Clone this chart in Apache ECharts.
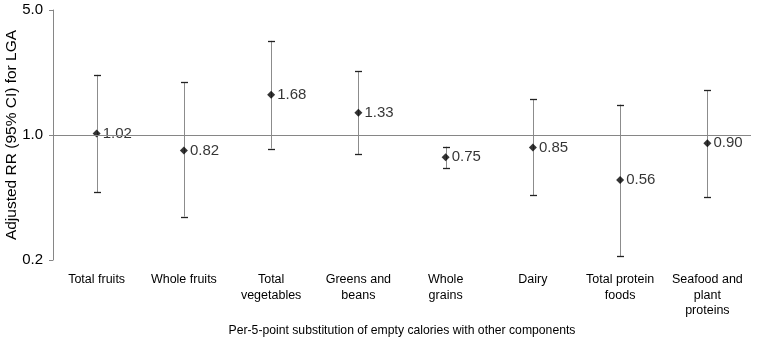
<!DOCTYPE html>
<html>
<head>
<meta charset="utf-8">
<script src="https://cdn.jsdelivr.net/npm/echarts@6/dist/echarts.min.js"></script>
<style>
  html, body { margin: 0; padding: 0; background: #fff; }
  #chart { width: 757px; height: 338px; }
</style>
</head>
<body>
<div id="chart"></div>
<script>
const categories = [
  "Total fruits", "Whole fruits", "Total\nvegetables", "Greens and\nbeans",
  "Whole\ngrains", "Dairy", "Total protein\nfoods", "Seafood and\nplant\nproteins"
];
const rr = [1.02, 0.82, 1.68, 1.33, 0.75, 0.85, 0.56, 0.90];
const ciLow = [0.48, 0.35, 0.84, 0.78, 0.65, 0.46, 0.21, 0.45];
const ciHigh = [2.17, 1.97, 3.36, 2.28, 0.86, 1.58, 1.48, 1.78];
const yTicks = [0.2, 1.0, 5.0];

const font = "'Liberation Sans', Arial, sans-serif";

const chart = echarts.init(document.getElementById("chart"));

chart.setOption({
  animation: false,
  grid: { left: 53, right: 6, top: 10, bottom: 78, outerBoundsMode: "none", containLabel: false },
  xAxis: {
    type: "category",
    data: categories,
    name: "Per-5-point substitution of empty calories with other components",
    nameLocation: "middle",
    nameGap: 65,
    nameMoveOverlap: false,
    nameTextStyle: { fontFamily: font, fontSize: 12.2, color: "#000" },
    axisLine: { show: false },
    axisTick: { show: false },
    axisLabel: {
      interval: 0,
      margin: 12,
      fontFamily: font,
      fontSize: 12.5,
      lineHeight: 15.5,
      color: "#000"
    }
  },
  yAxis: {
    type: "log",
    logBase: 5,
    min: yTicks[0],
    max: yTicks[yTicks.length - 1],
    name: "Adjusted RR (95% CI) for LGA",
    nameLocation: "middle",
    nameGap: 33,
    nameMoveOverlap: false,
    nameTextStyle: { fontFamily: font, fontSize: 15.5, color: "#000" },
    axisLine: { show: true, lineStyle: { color: "#868686" } },
    axisTick: { show: true, inside: false, length: 4, lineStyle: { color: "#868686" } },
    splitLine: { show: false },
    axisLabel: {
      margin: 10,
      fontFamily: font,
      fontSize: 15,
      color: "#000",
      formatter: (v) => Number(v).toFixed(1)
    }
  },
  series: [
    {
      type: "custom",
      data: categories.map((c, i) => [i, ciLow[i], ciHigh[i]]),
      renderItem: (params, api) => {
        const lo = api.coord([api.value(0), api.value(1)]);
        const hi = api.coord([api.value(0), api.value(2)]);
        const x = Math.round(lo[0]) + 0.5;
        const cap = 3.5;
        return {
          type: "group",
          children: [
            { type: "line", shape: { x1: x, y1: hi[1], x2: x, y2: lo[1] },
              style: { stroke: "#8c8c8c", lineWidth: 1 } },
            { type: "line", shape: { x1: x - cap, y1: Math.round(hi[1]) + 0.5, x2: x + cap, y2: Math.round(hi[1]) + 0.5 },
              style: { stroke: "#222", lineWidth: 1.3 } },
            { type: "line", shape: { x1: x - cap, y1: Math.round(lo[1]) + 0.5, x2: x + cap, y2: Math.round(lo[1]) + 0.5 },
              style: { stroke: "#222", lineWidth: 1.3 } }
          ]
        };
      },
      z: 2,
      markLine: {
        silent: true,
        symbol: "none",
        label: { show: false },
        lineStyle: { color: "#868686", width: 1, type: "solid" },
        data: [{ yAxis: 1 }]
      }
    },
    {
      type: "scatter",
      data: rr,
      symbol: "diamond",
      symbolSize: 8,
      itemStyle: { color: "#000" },
      z: 3,
      label: {
        show: true,
        position: "right",
        distance: 2,
        fontFamily: font,
        fontSize: 15,
        color: "#000",
        formatter: (p) => p.value.toFixed(2)
      }
    }
  ]
});
</script>
</body>
</html>
